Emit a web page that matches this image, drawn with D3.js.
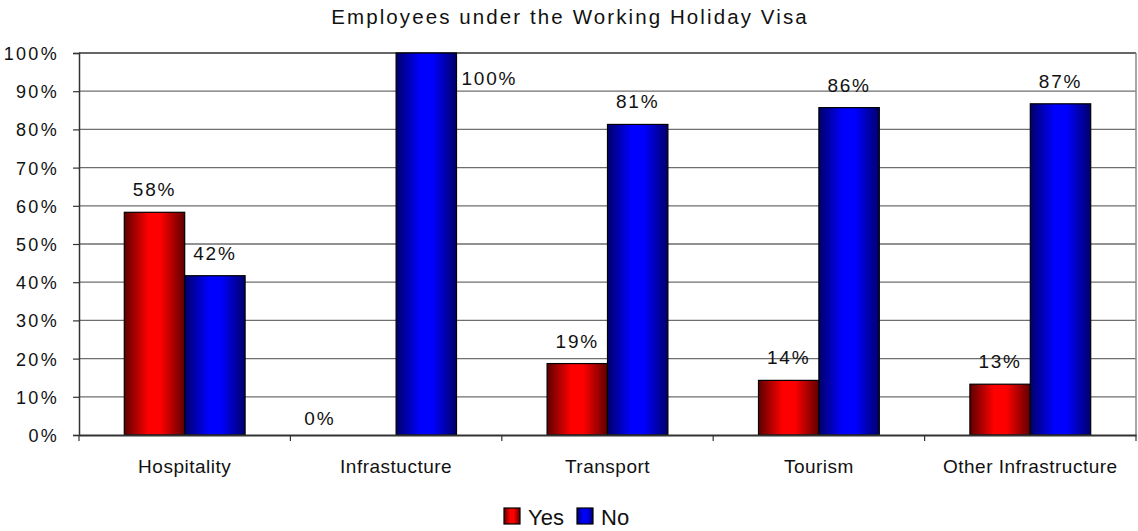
<!DOCTYPE html>
<html><head><meta charset="utf-8">
<script src="https://cdn.jsdelivr.net/npm/d3@7"></script>
<style>
body{margin:0;background:#fff;}
text{font-family:"Liberation Sans",Arial,Helvetica,sans-serif;fill:#111;}
</style></head>
<body><svg id="c" width="1138" height="531"></svg>
<script>
const title = "Employees under the Working Holiday Visa";
const categories = ["Hospitality","Infrastucture","Transport","Tourism","Other Infrastructure"];
const seriesNames = ["Yes","No"];
const yesValues = [58.3, 0, 18.7, 14.3, 13.3];
const noValues = [41.7, 100, 81.3, 85.7, 86.7];
const yTicks = [0,10,20,30,40,50,60,70,80,90,100];

const svg = d3.select("#c");
const m = {l:79, r:1136, t:53, b:435};
const x = d3.scaleBand().domain(categories).range([m.l, m.r]).paddingInner(0).paddingOuter(0);
const inner = d3.scaleBand().domain(seriesNames).range([0, x.bandwidth()]).paddingInner(0).paddingOuter(0.75);
const y = d3.scaleLinear().domain([0,100]).range([m.b, m.t]);

const defs = svg.append("defs");
function grad(id, dark, bright){
  const g = defs.append("linearGradient").attr("id",id).attr("x1","0").attr("x2","1").attr("y1","0").attr("y2","0");
  g.append("stop").attr("offset","0%").attr("stop-color",dark);
  g.append("stop").attr("offset","40%").attr("stop-color",bright);
  g.append("stop").attr("offset","60%").attr("stop-color",bright);
  g.append("stop").attr("offset","100%").attr("stop-color",dark);
}
grad("gYes","#5e0000","#ff0000");
grad("gNo","#00006a","#0000ff");
const fills = {Yes:"url(#gYes)", No:"url(#gNo)"};

// gridlines
svg.append("g").selectAll("line").data(yTicks.filter(d=>d>0)).join("line")
  .attr("x1",m.l).attr("x2",m.r).attr("y1",d=>y(d)).attr("y2",d=>y(d))
  .attr("stroke",d=>d===100?"#333":"#6e6e6e").attr("stroke-width",1.3);
// right border
svg.append("line").attr("x1",m.r).attr("x2",m.r).attr("y1",m.t).attr("y2",m.b).attr("stroke","#888").attr("stroke-width",1.5);

// y axis
const yAxis = d3.axisLeft(y).tickValues(yTicks).tickFormat(d=>d+"%").tickSize(6).tickPadding(14);
const ya = svg.append("g").attr("transform",`translate(${m.l},0)`).call(yAxis);
ya.select(".domain").attr("stroke","#333").attr("stroke-width",1.5);
ya.selectAll(".tick line").attr("stroke","#333").attr("stroke-width",1.2);
ya.selectAll("text").style("font-size","18px").style("letter-spacing","2.3px").attr("fill","#111").attr("dy","0.36em");

// bars
const data = [];
categories.forEach((c,i)=>{
  data.push({cat:c, s:"Yes", v:yesValues[i]});
  data.push({cat:c, s:"No", v:noValues[i]});
});
svg.append("g").selectAll("rect").data(data.filter(d=>d.v>0)).join("rect")
  .attr("x",d=>x(d.cat)+inner(d.s)).attr("width",inner.bandwidth())
  .attr("y",d=>y(d.v)).attr("height",d=>y(0)-y(d.v))
  .attr("fill",d=>fills[d.s]).attr("stroke","#000").attr("stroke-width",1.2);

// x axis
const xAxis = d3.axisBottom(x).tickSize(0);
const xa = svg.append("g").attr("transform",`translate(0,${m.b})`).call(xAxis);
xa.select(".domain").attr("stroke","#333").attr("stroke-width",2);
xa.selectAll("text").attr("y",38).attr("dy","0").style("font-size","19px").style("letter-spacing","0.5px").attr("fill","#111");
// category separator ticks
const seps = categories.map(c=>x(c)).concat([m.r]);
svg.append("g").selectAll("line").data(seps).join("line")
  .attr("x1",d=>d).attr("x2",d=>d).attr("y1",m.b).attr("y2",m.b+6).attr("stroke","#333").attr("stroke-width",1.2);

// value labels
svg.append("g").selectAll("text").data(data).join("text")
  .attr("x",d=>{
    const cx = x(d.cat)+inner(d.s)+inner.bandwidth()/2;
    if(d.v>=100) return x(d.cat)+inner(d.s)+inner.bandwidth()+5;
    if(d.v===0) return cx-46;
    return cx;
  })
  .attr("y",d=>d.v>=100? y(d.v)+32 : (d.v===0? y(0)-10 : y(d.v)-16))
  .attr("text-anchor",d=>d.v>=100?"start":"middle")
  .style("font-size","19px").style("letter-spacing","1.8px")
  .text(d=>Math.round(d.v)+"%");

// title
svg.append("text").attr("x",570).attr("y",24).attr("text-anchor","middle").style("font-size","20.5px").style("letter-spacing","2.1px").text(title);

// legend
const lg = svg.append("g").attr("transform","translate(504,508)");
seriesNames.forEach((s,i)=>{
  const g = lg.append("g").attr("transform",`translate(${i*73},0)`);
  g.append("rect").attr("width",16).attr("height",16).attr("fill",fills[s]).attr("stroke","#000").attr("stroke-width",1.2);
  g.append("text").attr("x",24).attr("y",17).style("font-size","22px").text(s);
});
</script></body></html>
